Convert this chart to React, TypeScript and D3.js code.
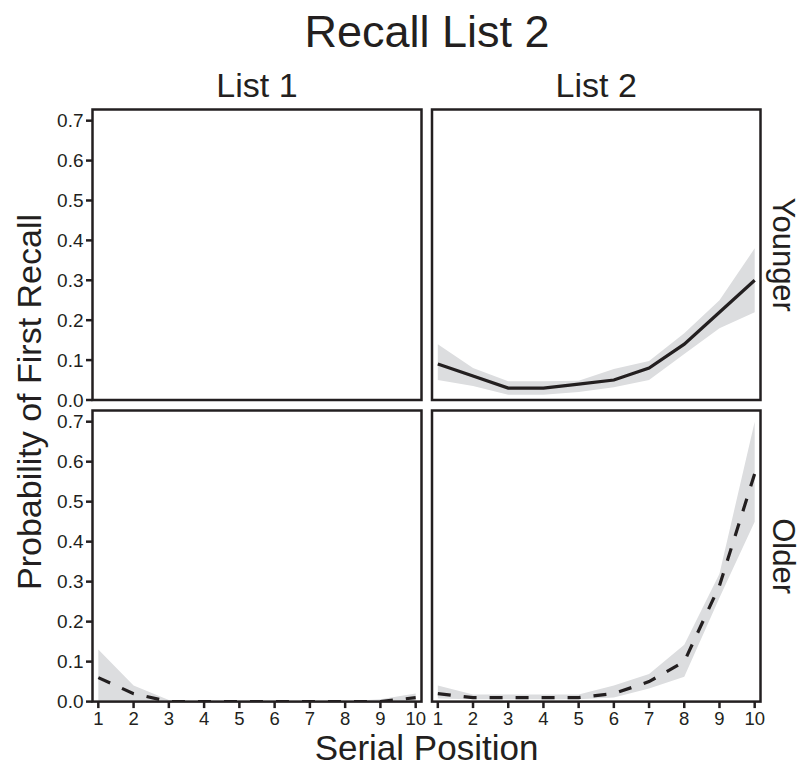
import React from "react";
import * as d3 from "d3";

const positions = [1, 2, 3, 4, 5, 6, 7, 8, 9, 10];
const yTicks = [0, 0.1, 0.2, 0.3, 0.4, 0.5, 0.6, 0.7];
const columnLabels = ["List 1", "List 2"];
const rowLabels = ["Younger", "Older"];

const youngerList2Mean = [0.09, 0.06, 0.03, 0.03, 0.04, 0.05, 0.08, 0.14, 0.22, 0.3];
const youngerList2Lower = [0.05, 0.035, 0.013, 0.013, 0.02, 0.032, 0.05, 0.115, 0.18, 0.22];
const youngerList2Upper = [0.14, 0.08, 0.047, 0.047, 0.048, 0.078, 0.098, 0.167, 0.25, 0.38];

const olderList1Mean = [0.06, 0.02, 0, 0, 0, 0, 0, 0, 0, 0.01];
const olderList1Lower = [0, 0, 0, 0, 0, 0, 0, 0, 0, 0];
const olderList1Upper = [0.13, 0.04, 0.004, 0, 0, 0, 0, 0, 0.006, 0.02];

const olderList2Mean = [0.02, 0.01, 0.01, 0.01, 0.01, 0.02, 0.05, 0.1, 0.29, 0.57];
const olderList2Lower = [0.008, 0.006, 0.006, 0.006, 0.006, 0.01, 0.033, 0.062, 0.26, 0.45];
const olderList2Upper = [0.04, 0.018, 0.018, 0.018, 0.018, 0.04, 0.069, 0.142, 0.32, 0.7];

type Series = { mean: number[]; lower: number[]; upper: number[]; dashed: boolean } | null;

// panels[row][col]
const panelSeries: Series[][] = [
  [null, { mean: youngerList2Mean, lower: youngerList2Lower, upper: youngerList2Upper, dashed: false }],
  [
    { mean: olderList1Mean, lower: olderList1Lower, upper: olderList1Upper, dashed: true },
    { mean: olderList2Mean, lower: olderList2Lower, upper: olderList2Upper, dashed: true },
  ],
];

const INK = "#231f20";
const BAND = "#dcdddf";
const FONT = "'Liberation Sans', Arial, Helvetica, sans-serif";

const colX = [
  [92.5, 421.5],
  [432, 760.5],
];
const rowY = [
  [109.5, 400],
  [410.5, 701.6],
];

export default function App() {
  return (
    <svg width={805} height={772} style={{ position: "absolute", left: 0, top: 0 }} fontFamily={FONT}>
      <rect x={0} y={0} width={805} height={772} fill="#fff" />
      <text x={427} y={47} fontSize={45} textAnchor="middle" fill={INK}>
        Recall List 2
      </text>
      {columnLabels.map((lab, c) => (
        <text key={lab} x={(colX[c][0] + colX[c][1]) / 2} y={97} fontSize={34} textAnchor="middle" fill={INK}>
          {lab}
        </text>
      ))}
      {rowLabels.map((lab, r) => {
        const cy = (rowY[r][0] + rowY[r][1]) / 2;
        return (
          <text
            key={lab}
            transform={`translate(773,${cy}) rotate(90)`}
            fontSize={31}
            textAnchor="middle"
            fill={INK}
          >
            {lab}
          </text>
        );
      })}
      <text transform={`translate(41,402) rotate(-90)`} fontSize={34} textAnchor="middle" fill={INK}>
        Probability of First Recall
      </text>
      <text x={426.5} y={760} fontSize={35} textAnchor="middle" fill={INK}>
        Serial Position
      </text>
      {rowY.map((ry, r) =>
        colX.map((cx, c) => {
          const x = d3.scaleLinear().domain([0.835, 10.165]).range([cx[0], cx[1]]);
          const y = d3.scaleLinear().domain([0, 0.728]).range([ry[1], ry[0]]);
          const s = panelSeries[r][c];
          const idx = positions.map((_, i) => i);
          const area = d3
            .area<number>()
            .x((i) => x(positions[i]))
            .y0((i) => y(s ? s.lower[i] : 0))
            .y1((i) => y(s ? s.upper[i] : 0));
          const line = d3
            .line<number>()
            .x((i) => x(positions[i]))
            .y((i) => y(s ? s.mean[i] : 0));
          const clipId = `clip-${r}-${c}`;
          return (
            <g key={`${r}-${c}`}>
              <clipPath id={clipId}>
                <rect x={cx[0]} y={ry[0]} width={cx[1] - cx[0]} height={ry[1] - ry[0]} />
              </clipPath>
              {s && (
                <g clipPath={`url(#${clipId})`}>
                  <path d={area(idx) || ""} fill={BAND} />
                  <path
                    d={line(idx) || ""}
                    fill="none"
                    stroke={INK}
                    strokeWidth={3.2}
                    strokeDasharray={s.dashed ? "13 13" : undefined}
                  />
                </g>
              )}
              <rect
                x={cx[0]}
                y={ry[0]}
                width={cx[1] - cx[0]}
                height={ry[1] - ry[0]}
                fill="none"
                stroke={INK}
                strokeWidth={2.5}
              />
              {c === 0 &&
                yTicks.map((t) => (
                  <g key={t}>
                    <line x1={cx[0] - 6.5} x2={cx[0]} y1={y(t)} y2={y(t)} stroke={INK} strokeWidth={2.5} />
                    <text x={cx[0] - 9} y={y(t) + 6.8} fontSize={19} textAnchor="end" fill={INK}>
                      {t.toFixed(1)}
                    </text>
                  </g>
                ))}
              {r === 1 &&
                positions.map((p) => (
                  <g key={p}>
                    <line x1={x(p)} x2={x(p)} y1={ry[1]} y2={ry[1] + 6.5} stroke={INK} strokeWidth={2.5} />
                    <text x={x(p)} y={ry[1] + 23.5} fontSize={18.5} textAnchor="middle" fill={INK}>
                      {p}
                    </text>
                  </g>
                ))}
            </g>
          );
        })
      )}
    </svg>
  );
}
